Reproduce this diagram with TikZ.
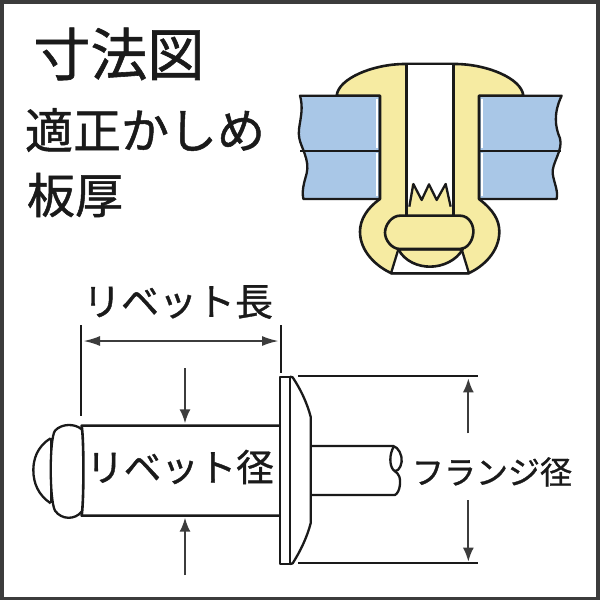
\documentclass[tikz,border=0pt]{standalone}
\usepackage{fontspec}
\usetikzlibrary{arrows.meta}
\newfontfamily\jpfont[RawFeature={embolden=1.0}]{Noto Sans CJK JP}
\definecolor{rivetyellow}{HTML}{F6EBA2}
\definecolor{plateblue}{HTML}{A9C7E7}
\definecolor{inkline}{HTML}{1A1A1A}
\tikzset{
  label text/.style={inner sep=0pt,text=inkline,font=\jpfont},
  outline/.style={draw=inkline,line width=2.3pt,line join=round},
  thickline/.style={draw=inkline,line width=2.6pt,line join=round},
  dimline/.style={draw=inkline,line width=1.9pt},
  dimarrow/.style={draw=inkline!85!white,line width=2pt,-{Latex[length=14pt,width=11pt]}},
  dimboth/.style={draw=inkline!85!white,line width=2.4pt,{Latex[length=17pt,width=10pt]}-{Latex[length=17pt,width=10pt]}},
}
\begin{document}
\begin{tikzpicture}[x=1pt,y=-1pt]
\useasboundingbox (0,0) rectangle (600,600);
\fill[white] (0,0) rectangle (600,600);
\draw[draw=inkline!85!white,line width=4pt] (1.5,2) rectangle (598,598.5);
% labels
\node[label text,font=\jpfont\fontsize{57}{57}\selectfont] (title) at (119,54) {寸法図};
\node[label text,font=\jpfont\fontsize{48}{48}\selectfont] (lineA) at (145,130) {適正かしめ};
\node[label text,font=\jpfont\fontsize{48}{48}\selectfont] (lineB) at (75,195) {板厚};
\node[label text,font=\jpfont\fontsize{38}{38}\selectfont] (lenlabel) at (178,302) {リベット長};
\node[label text,font=\jpfont\fontsize{37.5}{37.5}\selectfont] (dialabel) at (180,467) {リベット径};
\node[label text,font=\jpfont\fontsize{32}{32}\selectfont] (flangelabel) at (492,472) {フランジ径};
% section view (zoom coordinates)
\begin{scope}[xshift=280pt,yshift=-50pt,x=0.33333pt,y=-0.33333pt]
  % plates
  \fill[plateblue,outline] (60,137) .. controls (75,190) and (50,230) .. (58,265) .. controls (62,290) and (90,330) .. (80,370) .. controls (72,400) and (65,420) .. (70,447) -- (300,447) -- (300,137) -- cycle;
  \draw[outline] (60,302) -- (300,302);
  \fill[plateblue,outline] (845,137) .. controls (820,190) and (825,230) .. (840,265) .. controls (850,300) and (815,340) .. (818,370) .. controls (822,400) and (835,420) .. (830,447) -- (597,447) -- (597,137) -- cycle;
  \draw[outline] (597,302) -- (842,302);
  \draw[white,line width=1.5pt] (291,146) -- (291,294) (291,310) -- (291,439) (606,146) -- (606,294) (606,310) -- (606,439);
  % rivet body
  \fill[rivetyellow,thickline] (300,137) -- (170,137) .. controls (175,85) and (280,42) .. (375,42) -- (525,42) .. controls (620,42) and (725,85) .. (730,137) -- (597,137) -- (597,447) .. controls (640,480) and (658,510) .. (658,545) .. controls (658,605) and (610,650) .. (565,670) -- (335,670) .. controls (290,650) and (240,605) .. (240,545) .. controls (240,510) and (260,475) .. (300,447) -- cycle;
  % hollow core
  \fill[white] (380,45) rectangle (520,470);
  \fill[rivetyellow] (386,495) -- (395,400) -- (425,450) -- (447,403) -- (470,450) -- (497,400) -- (514,495) -- cycle;
  \draw[outline] (388,470) -- (400,402) -- (425,450) -- (447,403) -- (470,450) -- (497,402) -- (512,470);
  \draw[thickline,line width=3.6pt] (380,42) -- (380,497) (520,42) -- (520,497);
  % lower opening
  \fill[white,outline] (355,598) -- (545,598) -- (567,670) -- (333,670) -- cycle;
  \fill[rivetyellow,thickline] (355,598) .. controls (375,635) and (415,650) .. (450,650) .. controls (490,650) and (530,630) .. (548,598) -- cycle;
  % mandrel head
  \fill[rivetyellow,thickline] (360,497) -- (540,497) .. controls (570,497) and (582,530) .. (580,548) .. controls (578,575) and (560,597) .. (540,597) -- (360,597) .. controls (335,597) and (315,570) .. (315,548) .. controls (315,525) and (335,497) .. (360,497) -- cycle;
\end{scope}
% length dimension
\coordinate (lenL) at (81,325); \coordinate (lenLb) at (81,416);
\coordinate (lenR) at (281,325); \coordinate (lenRb) at (281,373);
\draw[dimline] (lenL) -- (lenLb);
\draw[dimline] (lenR) -- (lenRb);
\coordinate (lenA) at (83,341); \coordinate (lenB) at (279,341);
\draw[dimboth] (lenA) -- (lenB);
% rivet side view
\begin{scope}[xshift=20pt,yshift=-340pt,x=0.33333pt,y=-0.33333pt]
  \coordinate (dtA) at (495,85); \coordinate (dtB) at (495,250);
  \coordinate (dbA) at (495,705); \coordinate (dbB) at (495,533);
  \draw[dimarrow] (dtA) -- (dtB);
  \draw[dimarrow] (dbA) -- (dbB);
  \draw[thickline] (780,257) -- (185,257) .. controls (192,300) and (192,480) .. (185,527) -- (780,527);
  \draw[outline] (185,268) .. controls (165,250) and (125,250) .. (105,272) .. controls (88,295) and (88,480) .. (105,512) .. controls (125,540) and (165,540) .. (185,515);
  \draw[outline] (92,295) .. controls (50,320) and (40,360) .. (40,390) .. controls (40,430) and (55,465) .. (92,490);
  \draw[outline] (92,295) -- (92,490);
\end{scope}
% flange and stem
\begin{scope}[xshift=270pt,yshift=-360pt,x=0.33333pt,y=-0.33333pt]
  \draw[outline] (30,50) rectangle (60,612);
  \draw[outline] (60,50) -- (68,52) .. controls (90,85) and (110,125) .. (122,170) -- (122,490) .. controls (110,535) and (90,575) .. (68,610) -- (60,612);
  \draw[outline] (122,258) -- (370,258) .. controls (385,262) and (397,285) .. (395,305) .. controls (393,325) and (378,340) .. (370,330) .. controls (358,315) and (358,285) .. (370,262);
  \draw[outline] (122,405) -- (375,405) .. controls (392,395) and (392,360) .. (388,350) .. controls (385,340) and (380,338) .. (372,332);
  \coordinate (flT1) at (85,48); \coordinate (flT2) at (625,48);
  \coordinate (flB1) at (85,610); \coordinate (flB2) at (625,610);
  \draw[dimline] (flT1) -- (flT2);
  \draw[dimline] (flB1) -- (flB2);
  \coordinate (faA) at (595,220); \coordinate (faB) at (595,55);
  \coordinate (fbA) at (595,420); \coordinate (fbB) at (595,605);
  \draw[dimarrow] (faA) -- (faB);
  \draw[dimarrow] (fbA) -- (fbB);
\end{scope}
\end{tikzpicture}
\end{document}
